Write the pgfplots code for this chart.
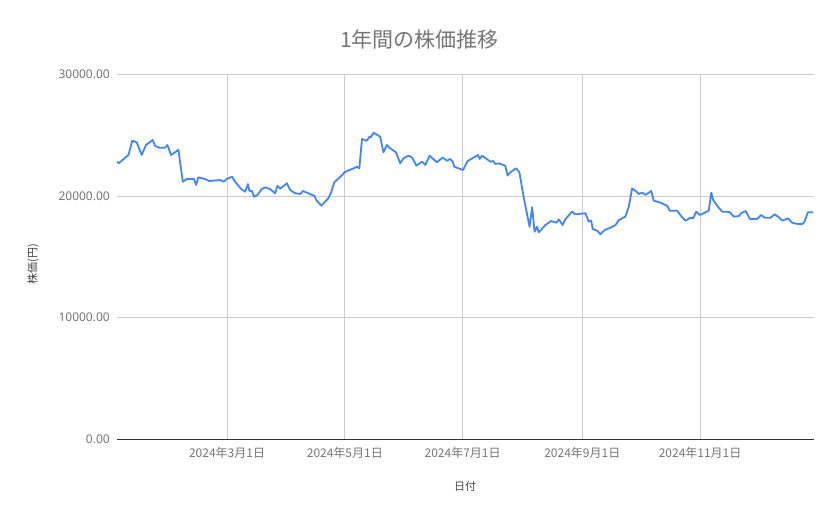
\documentclass[border=0pt]{standalone}
\usepackage{pgfplots}
\pgfplotsset{compat=1.18}
\usepackage{fontspec}
\setmainfont{Noto Sans}
\newfontfamily\jp{Noto Sans CJK JP}
\definecolor{lineblue}{HTML}{4285F4}
\definecolor{txtgray}{HTML}{757575}
\definecolor{labgray}{HTML}{444444}
\definecolor{gridgray}{HTML}{CCCCCC}
\definecolor{axisdark}{HTML}{333333}

\begin{document}
\begin{tikzpicture}[x=1pt,y=1pt]
% page frame: plot box lower-left corner sits at the origin
\path[use as bounding box] (-117,-79.7) rectangle (722,439.3);

% title and axis titles
\node[txtgray, font=\jp\fontsize{21}{24}\selectfont] at (302.5,400.3) {1年間の株価推移};
\node[labgray, rotate=90, font=\jp\fontsize{11}{13}\selectfont] at (-84,175.3) {株価(円)};
\node[labgray, font=\jp\fontsize{11}{13}\selectfont] at (348,-46.7) {日付};

\begin{axis}[
    scale only axis,
    width=697pt, height=365pt,
    xmin=3, xmax=364,
    ymin=0, ymax=30000,
    axis lines*=left,
    y axis line style={draw=none},
    x axis line style={axisdark, line width=1pt},
    major tick length=0pt,
    scaled y ticks=false,
    xtick={60,121,182,244,305},
    xticklabels={2024年3月1日,2024年5月1日,2024年7月1日,2024年9月1日,2024年11月1日},
    ytick={0,10000,20000,30000},
    yticklabels={0.00,10000.00,20000.00,30000.00},
    xticklabel style={font=\jp\fontsize{12}{14}\selectfont, txtgray, inner sep=0pt, anchor=north, yshift=-7.5pt},
    yticklabel style={font=\fontsize{12}{14}\selectfont, txtgray, inner sep=0pt, anchor=east, xshift=-7pt},
    xmajorgrids, ymajorgrids,
    major grid style={gridgray, line width=0.8pt},
    clip=false,
]
\addplot[color=lineblue, line width=1.8pt, line join=round, mark=none] coordinates {
    (3,22800) (4,22700) (8.9,23370) (10.9,24540) (13.2,24410) (15.8,23370)
    (18.0,24190) (21.5,24600) (22.7,24110) (24.9,23970) (27.9,23970) (29.1,24190)
    (31.0,23370) (34.8,23780) (37.1,21170) (39.1,21390) (42.9,21390) (44.0,20900)
    (45.1,21530) (48.6,21390) (50.8,21230) (56.4,21310) (58.4,21170) (59.7,21390)
    (62.6,21580) (64.2,21170) (67.3,20570) (69.4,20350) (70.8,20980) (71.6,20410)
    (72.8,20430) (74.0,19940) (75.7,20080) (78.0,20570) (79.7,20710) (82.3,20570)
    (84.9,20220) (86.1,20840) (87.5,20600) (91.0,21040) (92.7,20490) (95.3,20220)
    (97.9,20160) (99.3,20410) (101.3,20270) (105.3,20000) (106.2,19670) (108.8,19200)
    (112.5,19810) (113.9,20300) (115.5,21120) (118.2,21500) (121.2,21990) (125.5,22270)
    (127.3,22400) (128.5,22270) (129.9,24680) (132.4,24540) (133.8,24870) (134.5,24820)
    (135.9,25200) (139.3,24870) (141.0,23590) (142.8,24190) (144.5,23920) (147.5,23590)
    (149.7,22680) (151.4,23100) (154.0,23310) (155.8,23180) (158.0,22490) (161.0,22820)
    (162.7,22550) (164.9,23310) (168.7,22770) (171.6,23150) (173.9,22900) (175.6,23040)
    (177.0,22770) (177.7,22400) (182.2,22130) (184.6,22870) (187.7,23150) (190.0,23370)
    (190.8,23040) (192.1,23310) (196.4,22820) (197.8,22870) (199.0,22630) (200.7,22680)
    (204.1,22490) (205.3,21670) (206.7,21950) (209.7,22270) (211.4,21950) (213.6,19940)
    (216.7,17470) (218.0,19070) (219.3,17060) (220.6,17470) (221.4,17010) (224.9,17610)
    (227.8,17940) (230.6,17800) (231.8,18080) (233.8,17610) (235.2,18080) (238.7,18710)
    (240.4,18490) (245.6,18580) (247.3,17890) (248.6,17970) (249.4,17280) (251.7,17150)
    (253.4,16850) (255.5,17200) (258.6,17390) (261.2,17610) (262.9,18020) (266.3,18300)
    (268.1,19120) (269.8,20630) (272.1,20350) (273.2,20160) (275.0,20270) (276.7,20080)
    (279.7,20410) (281.0,19610) (284.5,19450) (288.0,19180) (289.3,18790) (293.1,18790)
    (294.8,18440) (295.7,18250) (297.4,17970) (300.0,18210) (301.4,18160) (303.0,18710)
    (304.8,18440) (306.9,18580) (309.5,18790) (310.8,20270) (311.8,19670) (314.2,19120)
    (316.5,18710) (318.7,18710) (320.4,18660) (322.5,18300) (325.1,18350) (326.3,18580)
    (328.6,18760) (330.8,18110) (334.6,18110) (336.7,18440) (338.4,18210) (341.5,18210)
    (343.6,18490) (345.8,18250) (347.6,17970) (350.5,18160) (352.7,17800) (355.4,17700)
    (358.0,17700) (359.1,17890) (360.8,18660) (363.6,18660)
};
\end{axis}
\end{tikzpicture}
\end{document}
